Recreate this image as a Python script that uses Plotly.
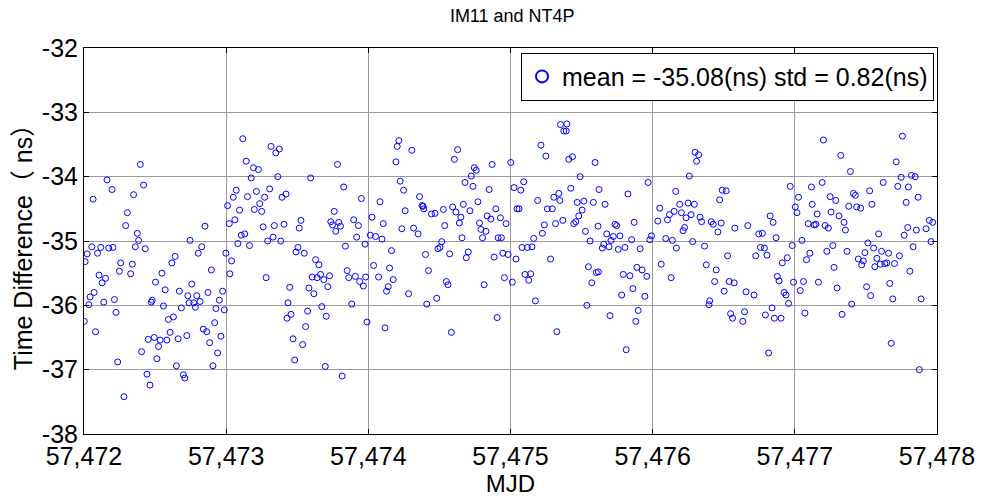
import plotly.graph_objects as go

MJD0 = 57472
title_text = "IM11 and NT4P"
legend_text = "mean = -35.08(ns) std = 0.82(ns)"
x_ticks = [57472, 57473, 57474, 57475, 57476, 57477, 57478]
y_ticks = [-38, -37, -36, -35, -34, -33, -32]

# days since MJD 57472, and time difference (ns), read per segment
seg1_day = [0.396,0.162,0.419,0.197,0.349,0.064,0.305,0.293,0.375,0.384,0.055,0.118,0.174,0.204,0.361,0.431,0.022,0.095,0.008,0.258,0.340,0.641,0.618,0.249,0.328,0.548,0.106,0.151,0.127,0.503,0.571,0.671,0.071,0.043,0.034,0.139,0.214,0.480,0.473,0.559,0.685,0.225,0.002,0.629,0.594,0.081,0.606,0.494,0.452,0.536,0.583,0.662,0.524,0.405,0.237,0.513,0.650,0.443,0.699,0.709,0.464,0.281]
seg1_ns = [-33.81,-34.05,-34.13,-34.20,-34.28,-34.35,-34.56,-34.76,-34.88,-34.99,-35.09,-35.10,-35.11,-35.10,-35.09,-35.12,-35.20,-35.19,-35.32,-35.34,-35.36,-35.24,-35.34,-35.47,-35.51,-35.50,-35.53,-35.58,-35.65,-35.64,-35.76,-35.78,-35.80,-35.87,-35.99,-35.95,-35.91,-35.92,-35.95,-36.01,-36.04,-36.11,-36.25,-36.18,-36.22,-36.41,-36.42,-36.50,-36.53,-36.54,-36.54,-36.52,-36.64,-36.72,-36.88,-36.83,-36.94,-37.07,-37.08,-37.13,-37.24,-37.42]

seg2_day = [1.117,1.316,1.374,1.349,1.141,1.192,1.227,1.176,1.363,1.071,1.050,1.150,1.213,1.306,1.421,1.393,1.271,1.236,1.010,1.094,1.198,1.250,1.061,1.022,0.851,1.260,1.339,1.407,1.106,1.131,1.330,1.292,1.384,0.746,1.082,1.164,0.828,0.804,0.998,1.038,0.896,1.026,1.281,0.758,1.447,0.730,0.793,0.872,0.975,0.952,0.816,0.739,0.772,0.783,0.928,0.987,1.435,1.428,0.839,0.863,0.919,0.723,0.963,0.884,0.940,0.907]
seg2_ns = [-33.41,-33.53,-33.57,-33.63,-33.76,-33.86,-33.89,-34.02,-34.00,-34.21,-34.32,-34.31,-34.23,-34.19,-34.27,-34.32,-34.32,-34.42,-34.45,-34.52,-34.51,-34.54,-34.67,-34.73,-34.77,-34.78,-34.76,-34.74,-34.91,-34.89,-34.94,-35.00,-35.00,-34.99,-35.04,-35.07,-35.09,-35.19,-35.19,-35.31,-35.45,-35.51,-35.57,-35.67,-35.72,-35.85,-35.85,-35.80,-35.78,-35.92,-35.94,-35.96,-35.96,-36.03,-36.05,-36.07,-35.96,-36.20,-36.37,-36.41,-36.27,-36.47,-36.48,-36.58,-36.74,-36.94]

seg3_day = [1.783,1.594,1.827,1.951,2.082,1.760,1.526,1.514,1.897,1.736,1.792,1.748,1.804,1.771,1.930,2.026,2.105,1.918,2.014,2.051,2.096,1.977,1.839,1.505,1.491,1.549,2.163,1.629,1.652,2.037,2.149,1.851,1.664,1.605,1.640,1.687,1.727,1.862,1.909,1.981,1.939,1.965,1.715,2.072,2.175,2.140,2.128,1.582,1.617,1.456,1.673,1.883,1.573,1.704,1.991,2.117,1.559,1.470,1.538,1.482,1.697,1.816]
seg3_ns = [-33.81,-34.02,-34.16,-34.34,-34.39,-34.54,-34.68,-34.80,-34.67,-34.70,-34.71,-34.75,-34.77,-34.85,-34.76,-34.63,-34.73,-34.94,-34.91,-34.93,-34.97,-35.05,-35.08,-35.10,-35.17,-35.19,-35.15,-35.29,-35.37,-35.38,-35.42,-35.46,-35.52,-35.56,-35.57,-35.60,-35.54,-35.57,-35.55,-35.56,-35.63,-35.70,-35.71,-35.56,-35.60,-35.71,-35.78,-35.73,-35.82,-36.14,-36.02,-35.98,-36.09,-36.17,-36.26,-36.35,-36.33,-36.52,-36.61,-36.85,-36.95,-37.10]

seg4_day = [2.215,2.203,2.194,2.306,2.628,2.605,2.745,2.759,2.724,2.871,2.224,2.680,2.736,2.248,2.850,2.360,2.771,2.378,2.385,2.390,2.259,2.444,2.469,2.528,2.593,2.616,2.668,2.715,2.651,2.640,2.836,2.862,2.897,2.236,2.318,2.350,2.537,2.782,2.792,2.827,2.803,2.659,2.516,2.504,2.490,2.402,2.572,2.703,2.689,2.885,2.423,2.549,2.560,2.815,2.283,2.481,2.411,2.906,2.584,2.913]
seg4_ns = [-33.44,-33.53,-33.77,-33.59,-33.58,-33.73,-33.86,-33.90,-33.99,-33.81,-34.07,-34.09,-34.15,-34.21,-34.20,-34.31,-34.39,-34.45,-34.46,-34.50,-34.53,-34.58,-34.57,-34.51,-34.47,-34.55,-34.43,-34.53,-34.63,-34.72,-34.61,-34.66,-34.50,-34.81,-34.80,-34.89,-34.76,-34.72,-34.82,-34.85,-34.95,-34.95,-35.01,-35.10,-35.12,-35.21,-35.20,-35.17,-35.26,-35.25,-35.46,-35.63,-35.68,-35.68,-35.82,-35.89,-35.98,-36.19,-36.42,-34.95]

seg5_day = [3.352,3.396,3.375,3.392,3.214,3.249,3.002,3.410,3.436,3.595,3.490,3.093,3.025,3.072,3.424,3.623,3.191,3.305,3.340,3.347,3.469,3.516,3.583,3.046,3.060,3.259,3.294,3.504,3.480,2.929,2.969,3.238,3.224,3.317,3.368,3.445,3.459,3.616,3.527,2.936,3.163,3.560,3.081,3.119,3.151,2.946,2.983,3.039,3.282,3.656,3.646,2.957,3.548,3.618,3.604,3.572,3.102,3.142,3.128,3.013,3.175,3.537,3.326]
seg5_ns = [-33.19,-33.18,-33.29,-33.29,-33.51,-33.68,-33.78,-33.73,-33.69,-33.78,-34.00,-34.08,-34.17,-34.21,-34.18,-34.20,-34.37,-34.32,-34.26,-34.37,-34.40,-34.38,-34.40,-34.50,-34.50,-34.50,-34.50,-34.52,-34.61,-34.64,-34.73,-34.75,-34.88,-34.73,-34.68,-34.73,-34.70,-34.77,-34.85,-34.95,-34.96,-35.00,-35.10,-35.10,-35.09,-35.19,-35.21,-35.28,-35.28,-35.05,-35.11,-35.57,-35.40,-35.48,-35.49,-35.65,-35.52,-35.51,-35.61,-35.64,-35.93,-36.00,-36.41]

seg6_day = [4.298,4.323,4.309,4.258,3.968,4.162,3.826,4.190,4.249,4.293,3.665,4.050,4.151,4.118,4.202,4.270,4.104,4.235,4.036,4.333,4.344,3.870,3.735,3.747,4.225,4.214,3.677,3.770,3.723,3.707,3.852,3.980,3.992,4.092,4.139,4.281,3.693,3.758,3.805,3.912,4.167,4.365,4.060,4.377,3.889,3.926,3.793,3.840,3.959,4.130,3.861,3.945,3.782,3.898,3.700,3.882,3.814]
seg6_ns = [-33.62,-33.66,-33.76,-33.99,-34.09,-34.23,-34.27,-34.43,-34.41,-34.43,-34.43,-34.49,-34.54,-34.59,-34.56,-34.59,-34.67,-34.64,-34.69,-34.63,-34.70,-34.71,-34.74,-34.76,-34.79,-34.84,-34.89,-34.92,-34.93,-34.99,-34.98,-34.98,-34.92,-34.96,-34.99,-35.01,-35.09,-35.13,-35.10,-35.12,-35.11,-35.08,-35.36,-35.37,-35.41,-35.45,-35.52,-35.54,-35.55,-35.57,-35.74,-35.86,-35.84,-36.08,-36.16,-36.25,-36.69]

seg7_day = [4.968,5.117,5.026,5.122,5.003,5.015,4.489,4.517,4.471,4.826,4.847,4.412,4.426,4.482,4.459,4.578,4.669,5.094,4.746,4.772,4.868,5.050,4.982,4.758,4.786,4.527,4.725,4.804,4.947,4.912,5.106,5.082,4.447,4.877,4.889,4.436,4.538,4.573,4.991,5.061,4.503,4.657,4.713,4.924,4.938,5.038,4.401,4.396,4.956,4.840,4.548,4.562,4.646,4.634,4.793,4.856,4.903,5.071,4.816]
seg7_ns = [-34.15,-34.16,-34.32,-34.43,-34.47,-34.56,-34.21,-34.22,-34.36,-34.61,-34.71,-34.70,-34.74,-34.72,-34.86,-34.80,-34.76,-34.73,-34.89,-34.88,-34.95,-34.99,-35.07,-35.10,-35.11,-35.23,-35.23,-35.22,-35.26,-35.34,-35.19,-35.29,-35.45,-35.55,-35.62,-35.63,-35.63,-35.65,-35.64,-35.63,-35.78,-35.79,-35.84,-35.80,-35.84,-35.77,-35.93,-35.99,-35.97,-36.04,-36.13,-36.20,-36.10,-36.25,-36.15,-36.20,-36.20,-36.12,-36.74]

seg8_day = [5.201,5.757,5.323,5.713,5.391,5.192,5.622,5.748,5.820,5.846,5.724,5.799,5.412,5.426,5.526,5.248,5.288,5.867,5.783,5.379,5.435,5.463,5.542,5.157,5.255,5.311,5.346,5.136,5.148,5.213,5.236,5.356,5.589,5.794,5.769,5.855,5.923,5.946,5.970,5.958,5.514,5.554,5.267,5.225,5.367,5.493,5.610,5.659,5.832,5.736,5.447,5.482,5.470,5.577,5.563,5.601,5.633,5.647,5.701,5.276,5.809,5.166,5.297,5.505,5.668,5.533,5.689,5.888,5.400,5.332,5.678,5.876]
seg8_ns = [-33.43,-33.37,-33.67,-33.77,-33.92,-34.09,-34.09,-34.01,-33.98,-34.00,-34.15,-34.16,-34.26,-34.29,-34.22,-34.31,-34.37,-34.32,-34.40,-34.46,-34.47,-34.49,-34.43,-34.58,-34.55,-34.61,-34.71,-34.75,-34.74,-34.76,-34.80,-34.83,-34.89,-34.79,-34.91,-34.83,-34.81,-34.68,-34.71,-35.01,-35.03,-35.11,-35.07,-35.16,-35.16,-35.18,-35.16,-35.19,-35.09,-35.23,-35.28,-35.31,-35.37,-35.27,-35.40,-35.36,-35.35,-35.34,-35.35,-35.41,-35.47,-35.64,-35.73,-35.71,-35.66,-35.85,-35.90,-35.90,-35.98,-36.14,-36.59,-37.00]

days = seg1_day + seg2_day + seg3_day + seg4_day + seg5_day + seg6_day + seg7_day + seg8_day
diff_ns = seg1_ns + seg2_ns + seg3_ns + seg4_ns + seg5_ns + seg6_ns + seg7_ns + seg8_ns
mjd = [MJD0 + d for d in days]

FONT = "Liberation Sans, Arial, sans-serif"

fig = go.Figure()
fig.add_trace(go.Scatter(
    x=mjd, y=diff_ns, mode="markers", name=legend_text,
    marker=dict(symbol="circle-open", size=6, color="#0000ff", line=dict(width=1, color="#0000ff")),
))

axis_common = dict(
    showline=True, linecolor="black", linewidth=1, mirror="ticks",
    ticks="inside", ticklen=5, tickcolor="black",
    showgrid=True, gridcolor="#9a9a9a", gridwidth=1, zeroline=False,
    tickfont=dict(family=FONT, size=25, color="black"),
)

fig.update_layout(
    width=987, height=499,
    margin=dict(l=84, r=47, t=48, b=57),
    paper_bgcolor="white", plot_bgcolor="white",
    title=dict(text=title_text, x=0.519, xanchor="center", y=0.968, yanchor="middle",
               font=dict(family=FONT, size=18, color="black")),
    xaxis=dict(range=[x_ticks[0], x_ticks[-1]], tickvals=x_ticks,
               ticktext=[f"{v:,d}" for v in x_ticks],
               title=dict(text="MJD", font=dict(family=FONT, size=24, color="black"), standoff=0),
               **axis_common),
    yaxis=dict(range=[y_ticks[0], y_ticks[-1]], tickvals=y_ticks,
               ticktext=[str(v) for v in y_ticks],
               title=dict(text="Time Difference（ ns）", font=dict(family=FONT + ", Noto Sans CJK SC", size=25, color="black"), standoff=2),
               **axis_common),
    showlegend=True,
    legend=dict(x=0.9965, xanchor="right", y=0.988, yanchor="top",
                bgcolor="white", bordercolor="black", borderwidth=1,
                font=dict(family=FONT, size=25, color="black"),
                tracegroupgap=0, itemsizing="constant"),
)

fig.write_html("out.html")
